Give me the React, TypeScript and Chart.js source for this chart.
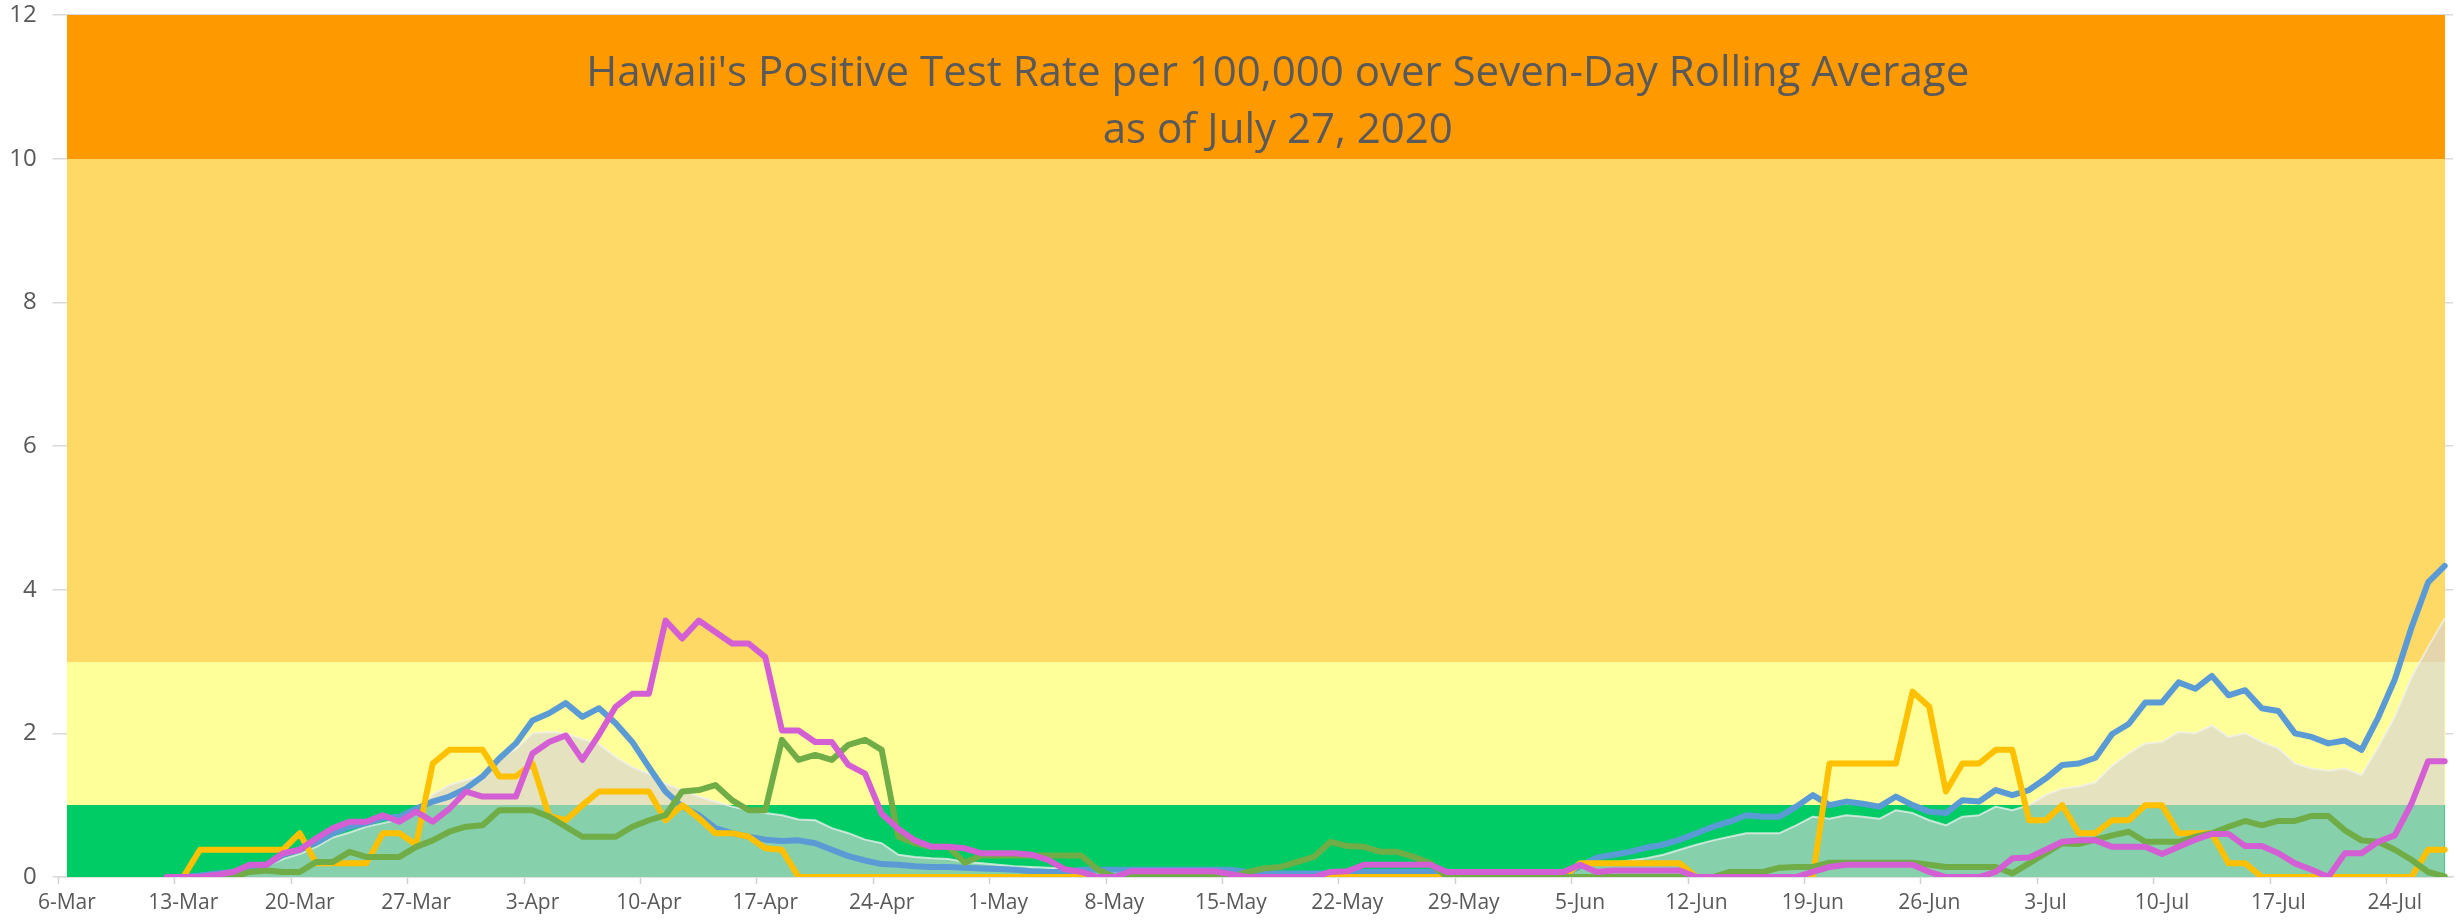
import React, { useEffect, useRef } from "react";
import { Chart, registerables } from "chart.js";

Chart.register(...registerables);

// ---------- categories ----------
const MONTHS = ["Jan", "Feb", "Mar", "Apr", "May", "Jun", "Jul", "Aug", "Sep", "Oct", "Nov", "Dec"];
const START_DATE = Date.UTC(2020, 2, 6); // 6-Mar-2020
const DAY_COUNT = 144; // 6-Mar .. 27-Jul
const dateLabels: string[] = Array.from({ length: DAY_COUNT }, (_, i) => {
  const d = new Date(START_DATE + i * 86400000);
  return `${d.getUTCDate()}-${MONTHS[d.getUTCMonth()]}`;
});
const LABEL_EVERY = 7;

// ---------- risk bands ----------
const bandEdges = [0, 1, 3, 10, 12];
const bandColors = ["#00CC66", "#FFFF99", "#FFD966", "#FF9900"];

// ---------- y ticks ----------
const yMin = 0;
const yMax = 12;
const yStep = 2;

// ---------- title ----------
const titleLines = [
  "Hawaii's Positive Test Rate per 100,000 over Seven-Day Rolling Average",
  "as of July 27, 2020",
];

// ---------- series (index 0 = 6-Mar) ----------
const blueSeries = [
  null, null, null, null, null, null,
  0, 0, 0.02, 0.05, 0.07, 0.12, 0.17,
  0.31, 0.38, 0.48, 0.61, 0.70, 0.75, 0.82,
  0.84, 0.95, 1.05, 1.12, 1.23, 1.40, 1.65,
  1.86, 2.18, 2.28, 2.42, 2.23, 2.35, 2.14,
  1.88, 1.53, 1.19, 0.98, 0.86, 0.68, 0.61,
  0.56, 0.52, 0.50, 0.51, 0.47, 0.38, 0.29,
  0.23, 0.18, 0.17, 0.15, 0.14, 0.14, 0.13,
  0.12, 0.11, 0.10, 0.08, 0.07, 0.07, 0.10,
  0.10, 0.10, 0.10, 0.10, 0.10, 0.10, 0.10,
  0.10, 0.10, 0.07, 0.05, 0.05, 0.05, 0.05,
  0.05, 0.07, 0.07, 0.07, 0.07, 0.07, 0.07,
  0.03, 0.03, 0.03, 0.03, 0.03, 0.03, 0.03,
  0.03, 0.15, 0.27, 0.31, 0.35, 0.41, 0.45,
  0.52, 0.61, 0.70, 0.77, 0.86, 0.84, 0.84,
  0.98, 1.14, 1.00, 1.05, 1.02, 0.98, 1.12,
  1.00, 0.91, 0.89, 1.07, 1.05, 1.21, 1.14,
  1.21, 1.37, 1.56, 1.58, 1.66, 1.99, 2.13,
  2.43, 2.43, 2.71, 2.62, 2.80, 2.53, 2.60,
  2.35, 2.31, 2.00, 1.95, 1.86, 1.90, 1.77,
  2.22, 2.75, 3.47, 4.10, 4.33,
];

const yellowSeries = [
  null, null, null, null, null, null, null,
  0, 0.38, 0.38, 0.38, 0.38, 0.38, 0.38,
  0.61, 0.19, 0.19, 0.19, 0.19, 0.61, 0.61,
  0.45, 1.58, 1.77, 1.77, 1.77, 1.40, 1.40,
  1.58, 0.85, 0.79, 1.00, 1.19, 1.19, 1.19,
  1.19, 0.79, 1.00, 0.82, 0.61, 0.61, 0.56,
  0.40, 0.38, 0, 0, 0, 0, 0,
  0, 0, 0, 0, 0, 0, 0,
  0, 0, 0, 0, 0, 0, 0,
  0, 0, 0, 0, 0, 0, 0,
  0, 0, 0, 0, 0, 0, 0,
  0, 0, 0, 0, 0, 0, 0,
  0, 0, 0, 0, 0, 0, 0,
  0.19, 0.19, 0.19, 0.19, 0.19, 0.19, 0.19,
  0, 0, 0, 0, 0, 0, 0,
  0, 1.58, 1.58, 1.58, 1.58, 1.58, 2.58,
  2.37, 1.19, 1.58, 1.58, 1.77, 1.77, 0.79,
  0.79, 1.00, 0.61, 0.61, 0.79, 0.79, 1.00,
  1.00, 0.61, 0.61, 0.61, 0.19, 0.19, 0,
  0, 0, 0, 0, 0, 0, 0,
  0, 0, 0.38, 0.38,
];

const greenSeries = [
  null, null, null, null, null, null, null,
  null, null, 0, 0, 0.07, 0.09, 0.07,
  0.07, 0.21, 0.21, 0.35, 0.28, 0.28, 0.28,
  0.42, 0.51, 0.63, 0.70, 0.72, 0.93, 0.93,
  0.93, 0.84, 0.70, 0.56, 0.56, 0.56, 0.70,
  0.79, 0.86, 1.19, 1.21, 1.28, 1.07, 0.93,
  0.93, 1.91, 1.63, 1.70, 1.63, 1.84, 1.91,
  1.77, 0.56, 0.47, 0.42, 0.42, 0.20, 0.30,
  0.30, 0.30, 0.30, 0.30, 0.30, 0.30, 0.10,
  0, 0, 0, 0, 0, 0, 0,
  0, 0.07, 0.12, 0.14, 0.21, 0.28, 0.49,
  0.43, 0.42, 0.35, 0.35, 0.28, 0.19, 0,
  0, 0, 0, 0, 0, 0, 0,
  0, 0, 0, 0, 0, 0, 0,
  0, 0, 0.07, 0.07, 0.07, 0.13, 0.14,
  0.14, 0.20, 0.20, 0.20, 0.20, 0.20, 0.20,
  0.17, 0.14, 0.14, 0.14, 0.14, 0.05, 0.19,
  0.33, 0.47, 0.46, 0.52, 0.58, 0.63, 0.49,
  0.49, 0.49, 0.56, 0.61, 0.70, 0.78, 0.72,
  0.78, 0.78, 0.85, 0.85, 0.65, 0.51, 0.49,
  0.38, 0.24, 0.07, 0.01,
];

const magentaSeries = [
  null, null, null, null, null, null, 0,
  0, 0, 0.03, 0.07, 0.17, 0.17, 0.33,
  0.38, 0.54, 0.68, 0.77, 0.77, 0.86, 0.77,
  0.91, 0.77, 0.95, 1.19, 1.12, 1.12, 1.12,
  1.72, 1.88, 1.97, 1.63, 1.98, 2.37, 2.55,
  2.55, 3.57, 3.32, 3.57, 3.41, 3.25, 3.25,
  3.06, 2.04, 2.04, 1.88, 1.88, 1.56, 1.44,
  0.88, 0.67, 0.51, 0.42, 0.42, 0.40, 0.33,
  0.33, 0.33, 0.31, 0.24, 0.11, 0.07, 0,
  0, 0.08, 0.08, 0.08, 0.08, 0.08, 0.08,
  0.04, 0, 0, 0, 0, 0, 0.07,
  0.08, 0.17, 0.17, 0.17, 0.17, 0.17, 0.07,
  0.07, 0.07, 0.07, 0.07, 0.07, 0.07, 0.07,
  0.17, 0.07, 0.09, 0.09, 0.09, 0.09, 0.09,
  0, 0, 0, 0, 0, 0, 0,
  0.07, 0.14, 0.17, 0.17, 0.17, 0.17, 0.17,
  0.07, 0, 0, 0, 0.07, 0.26, 0.27,
  0.38, 0.49, 0.51, 0.51, 0.42, 0.42, 0.42,
  0.32, 0.42, 0.52, 0.60, 0.60, 0.43, 0.43,
  0.33, 0.19, 0.10, 0, 0.33, 0.33, 0.49,
  0.58, 1.02, 1.61, 1.61,
];

const areaSeries = [
  null, null, null, null, null, null, 0,
  0, 0.01, 0.03, 0.05, 0.10, 0.15, 0.25,
  0.32, 0.42, 0.55, 0.62, 0.70, 0.75, 0.80,
  0.90, 1.15, 1.28, 1.35, 1.42, 1.65, 1.78,
  2.00, 2.02, 2.00, 1.92, 1.85, 1.67, 1.53,
  1.44, 1.30, 1.21, 1.12, 1.05, 0.98, 0.93,
  0.89, 0.86, 0.80, 0.79, 0.68, 0.61, 0.52,
  0.47, 0.31, 0.28, 0.26, 0.25, 0.21, 0.19,
  0.17, 0.15, 0.14, 0.13, 0.12, 0.10, 0.08,
  0.07, 0.07, 0.07, 0.07, 0.07, 0.07, 0.07,
  0.07, 0.05, 0.05, 0.05, 0.05, 0.05, 0.05,
  0.07, 0.07, 0.07, 0.07, 0.07, 0.07, 0.04,
  0.04, 0.04, 0.04, 0.04, 0.04, 0.04, 0.05,
  0.12, 0.18, 0.20, 0.23, 0.26, 0.31, 0.38,
  0.45, 0.51, 0.56, 0.61, 0.61, 0.61, 0.72,
  0.84, 0.81, 0.86, 0.84, 0.81, 0.93, 0.89,
  0.79, 0.72, 0.84, 0.86, 0.98, 0.93, 1.00,
  1.14, 1.23, 1.26, 1.32, 1.55, 1.72, 1.86,
  1.88, 2.02, 2.00, 2.11, 1.95, 2.00, 1.88,
  1.79, 1.58, 1.51, 1.48, 1.51, 1.42, 1.81,
  2.23, 2.78, 3.20, 3.60,
];

const FONT_FAMILY = "'Open Sans', 'Liberation Sans', sans-serif";
const TEXT_COLOR = "#595959";

const bandsPlugin = {
  id: "riskBands",
  beforeDatasetsDraw(chart: any) {
    const { ctx, scales } = chart;
    const x = scales.x;
    const y = scales.y;
    const x0 = Math.round(x.getPixelForValue(0));
    const x1 = Math.round(x.getPixelForValue(DAY_COUNT - 1));
    ctx.save();
    for (let i = 0; i < bandColors.length; i++) {
      const yb = Math.round(y.getPixelForValue(bandEdges[i]));
      const yt = Math.round(y.getPixelForValue(bandEdges[i + 1]));
      ctx.fillStyle = bandColors[i];
      ctx.fillRect(x0, yt, x1 - x0, yb - yt);
    }
    ctx.restore();
  },
  afterDraw(chart: any) {
    const { ctx, chartArea } = chart;
    const cx = (chartArea.left + chartArea.right) / 2 + 22;
    ctx.save();
    ctx.fillStyle = TEXT_COLOR;
    ctx.textAlign = "center";
    ctx.textBaseline = "alphabetic";
    ctx.font = `42px ${FONT_FAMILY}`;
    ctx.fillText(titleLines[0], cx, chartArea.top + 71);
    ctx.fillText(titleLines[1], cx, chartArea.top + 128);
    ctx.restore();
  },
};

export default function App() {
  const canvasRef = useRef<HTMLCanvasElement | null>(null);

  useEffect(() => {
    const canvas = canvasRef.current;
    if (!canvas) return;
    const lineBase = {
      type: "line" as const,
      fill: false,
      pointRadius: 0,
      pointHoverRadius: 0,
      borderWidth: 6,
      tension: 0,
      borderJoinStyle: "round" as const,
      borderCapStyle: "round" as const,
    };
    const chart = new Chart(canvas, {
      type: "line",
      data: {
        labels: dateLabels,
        datasets: [
          { ...lineBase, label: "Magenta", data: magentaSeries, borderColor: "#D45ED4", order: 0 },
          { ...lineBase, label: "Green", data: greenSeries, borderColor: "#70AD47", order: 1 },
          { ...lineBase, label: "Yellow", data: yellowSeries, borderColor: "#FFC000", order: 2 },
          { ...lineBase, label: "Blue", data: blueSeries, borderColor: "#5B9BD5", order: 3 },
          {
            ...lineBase,
            label: "Area",
            data: areaSeries,
            fill: "origin",
            backgroundColor: "rgba(214,210,214,0.63)",
            borderColor: "rgba(240,240,240,0.75)",
            borderWidth: 2,
            order: 4,
          },
        ],
      },
      options: {
        responsive: false,
        maintainAspectRatio: false,
        animation: false,
        devicePixelRatio: 1,
        layout: { padding: { top: 15, right: 5, left: 0, bottom: 0 } },
        plugins: {
          legend: { display: false },
          title: { display: false },
          tooltip: { enabled: false },
        },
        font: { family: FONT_FAMILY },
        scales: {
          x: {
            type: "category",
            offset: true,
            grid: {
              offset: true,
              display: true,
              drawOnChartArea: false,
              drawTicks: true,
              tickLength: 7,
              tickWidth: 1.5,
              tickColor: (c: any) => (c.index % LABEL_EVERY === 0 ? "#D0D0D0" : "rgba(0,0,0,0)"),
            },
            border: { display: true, color: "#D9D9D9", width: 1.5 },
            ticks: {
              autoSkip: false,
              maxRotation: 0,
              minRotation: 0,
              padding: 6,
              color: TEXT_COLOR,
              font: { family: FONT_FAMILY, size: 21 },
              callback: (_v: any, i: number) => (i % LABEL_EVERY === 0 ? dateLabels[i] : ""),
            },
            afterFit: (s: any) => {
              s.height = 47;
              s.paddingLeft = 0;
              s.paddingRight = 0;
            },
          },
          y: {
            min: yMin,
            max: yMax,
            grid: { color: "#D9D9D9", tickLength: 6, tickColor: "#D9D9D9", lineWidth: 1.5 },
            border: { display: false },
            ticks: {
              stepSize: yStep,
              padding: 16,
              color: TEXT_COLOR,
              font: { family: FONT_FAMILY, size: 24 },
            },
            afterFit: (s: any) => {
              s.width = 58.6;
              s.paddingTop = 0;
              s.paddingBottom = 0;
            },
          },
        },
      } as any,
      plugins: [bandsPlugin],
    });
    return () => chart.destroy();
  }, []);

  return (
    <div style={{ position: "fixed", left: 0, top: 0, width: 2458, height: 924, background: "#ffffff" }}>
      <canvas ref={canvasRef} width={2458} height={924} style={{ display: "block" }} />
    </div>
  );
}
